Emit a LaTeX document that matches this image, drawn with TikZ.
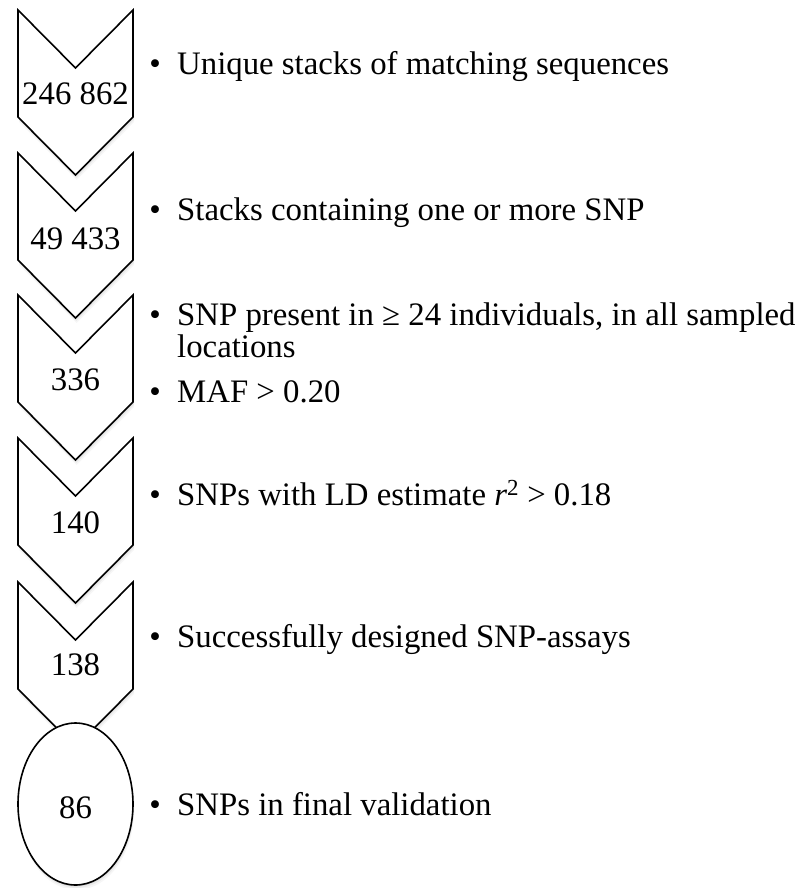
\documentclass[tikz,border=0pt]{standalone}
\usepackage{fontspec}
\setmainfont{Liberation Serif}
\usetikzlibrary{shadows,shapes.geometric}
\begin{document}
\begin{tikzpicture}[x=1pt,y=-1pt,
  shade/.style={drop shadow={shadow xshift=1.2pt, shadow yshift=-5pt, opacity=0.07},
                drop shadow={shadow xshift=0.8pt, shadow yshift=-3pt, opacity=0.10},
                drop shadow={shadow xshift=0.4pt, shadow yshift=-1.5pt, opacity=0.12}},
  chev/.style={draw=black, line width=1.6pt, fill=white, line join=miter, shade},
  big/.style={font=\fontsize{32.8}{39}\selectfont, inner sep=0pt},
  num/.style={big, anchor=base},
  txt/.style={big, anchor=base west},
  bul/.style={big, anchor=base}]
\useasboundingbox (0,0) rectangle (801,888);
% chevrons
\foreach \t in {10,153,295,438,582}{
  \path[chev] (18,\t) -- (75.5,\t+58) -- (133,\t) -- (133,\t+107)
     -- (75.5,\t+165) -- (18,\t+107) -- cycle;
}
% final ellipse
\node[chev, ellipse, minimum width=115pt, minimum height=162pt, inner sep=0pt] (ell) at (75.5,804) {};
% numbers
\node[num] (n1) at (75.5,105) {246 862};
\node[num] (n2) at (75.5,249) {49 433};
\node[num] (n3) at (75.5,390) {336};
\node[num] (n4) at (75.5,533) {140};
\node[num] (n5) at (75.5,675) {138};
\node[num] (n6) at (75.5,818) {86};
% bullets
\foreach \b/\y in {b1/75,b2/220,b3/325,b4/402,b5/505,b6/647,b7/815}{
  \node[bul] (\b) at (155,\y) {•};
}
% texts
\node[txt] (t1) at (177,75) {Unique stacks of matching sequences};
\node[txt] (t2) at (177,220) {Stacks containing one or more SNP};
\node[txt] (t3) at (177,325) {SNP present in ≥ 24 individuals, in all sampled};
\node[txt] (t3b) at (177,357) {locations};
\node[txt] (t4) at (177,402) {MAF > 0.20};
\node[txt] (t5) at (177,505) {SNPs with LD estimate \textit{r}\textsuperscript{2} > 0.18};
\node[txt] (t6) at (177,647) {Successfully designed SNP-assays};
\node[txt] (t7) at (177,815) {SNPs in final validation};
\end{tikzpicture}
\end{document}
